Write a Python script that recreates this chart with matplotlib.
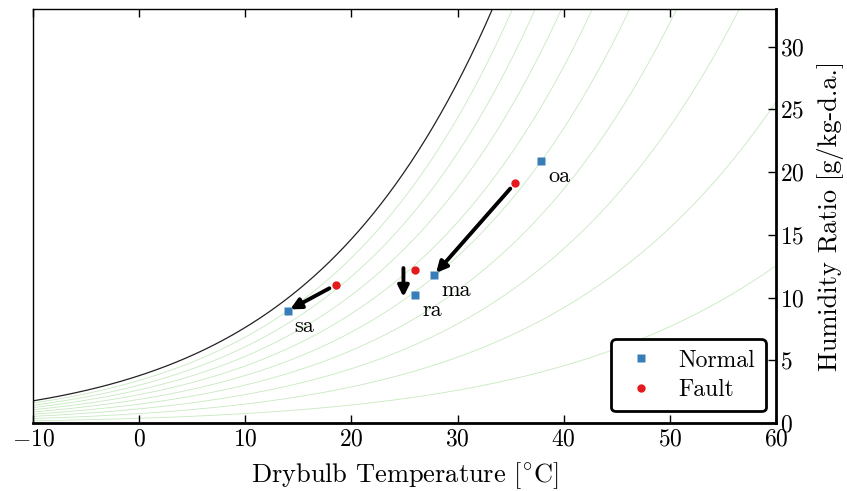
import numpy as np
import matplotlib
matplotlib.use('Agg')
from matplotlib import pyplot as plt

plt.rcParams['font.family'] = 'cmr10'
plt.rcParams['mathtext.fontset'] = 'cm'
plt.rcParams['axes.formatter.use_mathtext'] = True

# state points: supply, return, mixed, outdoor air
labels = ['sa', 'ra', 'ma', 'oa']
normal_t = [14.0, 26.0, 27.8, 37.9]
normal_w = [8.95, 10.2, 11.8, 20.9]
fault_t = [18.5, 26.0, 35.4]
fault_w = [11.0, 12.2, 19.1]
# which normal point each fault point moves to
fault_to = ['sa', 'ra', 'ma']

rh_levels = [0.1, 0.2, 0.3, 0.4, 0.5, 0.6, 0.7, 0.8, 0.9]
pressure = 101.325  # kPa

def sat_pressure(t):
	# Magnus formula, kPa
	return 0.61094 * np.exp(17.625 * t / (t + 243.04))

def humidity_ratio(t, rh):
	pv = rh * sat_pressure(t)
	return 622.0 * pv / (pressure - pv)

fig = plt.figure(figsize=(8.47, 4.91), dpi=100)
ax = fig.add_axes([33/847, 68/491, 743/847, 414/491])

temps = np.linspace(-10, 60, 400)
for rh in rh_levels:
	ax.plot(temps, humidity_ratio(temps, rh), color='#c7e9c0', lw=0.6, zorder=1)
ax.plot(temps, humidity_ratio(temps, 1.0), color='#222222', lw=0.9, zorder=2)

ax.plot(normal_t, normal_w, 's', color='#377eb8', ms=6, mec='none', label='Normal', zorder=4)
ax.plot(fault_t, fault_w, 'o', color='#e41a1c', ms=6, mec='none', label='Fault', zorder=4)

for name, t, w in zip(labels, normal_t, normal_w):
	ax.annotate(name, (t, w), xytext=(5, -15), textcoords='offset points', fontsize=16)

for ft, fw, target in zip(fault_t, fault_w, fault_to):
	i = labels.index(target)
	nt, nw = normal_t[i], normal_w[i]
	if ft == nt:
		# vertical move, drawn beside the points
		arrow = dict(arrowstyle='-|>', color='black', lw=2.8, mutation_scale=16, shrinkA=0, shrinkB=0)
		ax.annotate('', xy=(nt - 1.1, nw - 0.15), xytext=(ft - 1.1, fw + 0.15), arrowprops=arrow)
	else:
		arrow = dict(arrowstyle='-|>', color='black', lw=2.8, mutation_scale=16, shrinkA=5, shrinkB=2)
		ax.annotate('', xy=(nt, nw), xytext=(ft, fw), arrowprops=arrow)

ax.set_xlim(-10, 60)
ax.set_ylim(0, 33)
ax.set_xticks(range(-10, 61, 10))
ax.set_yticks(range(0, 31, 5))
ax.yaxis.tick_right()
ax.yaxis.set_label_position('right')
ax.tick_params(axis='both', direction='in', labelsize=17, length=6, width=1)
ax.tick_params(axis='x', top=True, pad=4)
ax.tick_params(axis='y', pad=3)

for side in ['bottom', 'right']:
	ax.spines[side].set_linewidth(2)
for side in ['top', 'left']:
	ax.spines[side].set_linewidth(1)

ax.set_xlabel(r'Drybulb Temperature [$^{\circ}$C]', fontsize=19, labelpad=7)
ax.set_ylabel('Humidity Ratio [g/kg-d.a.]', fontsize=19, labelpad=9)

leg = ax.legend(loc='lower right', fontsize=17, numpoints=1, handlelength=1.6,
	handletextpad=0.8, borderpad=0.45, labelspacing=0.3, fancybox=True, framealpha=1,
	borderaxespad=0, bbox_to_anchor=(0.986, 0.028))
leg.get_frame().set_edgecolor('black')
leg.get_frame().set_linewidth(2)

fig.savefig('out.png', dpi=100)
